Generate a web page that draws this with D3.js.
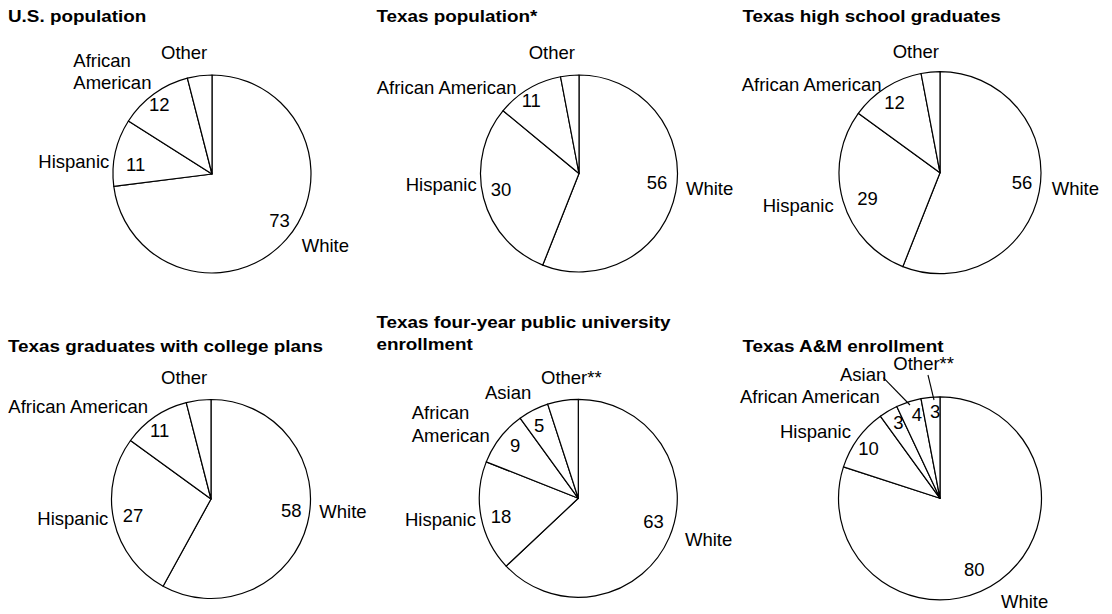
<!DOCTYPE html>
<html>
<head>
<meta charset="utf-8">
<script src="https://cdn.jsdelivr.net/npm/d3@7"></script>
<style>
  html, body { margin: 0; padding: 0; background: #fff; }
  svg { display: block; }
  text { font-family: Arial, "Liberation Sans", sans-serif; fill: #000; }
</style>
</head>
<body>
<svg id="chart" width="1112" height="614"></svg>
<script>
// ---- Data ----------------------------------------------------------------
const groupsFour = ["White", "Hispanic", "African American", "Other"];
const groupsFive = ["White", "Hispanic", "African American", "Asian", "Other**"];

const usPopulation          = [73, 11, 12, 4];
const texasPopulation       = [56, 30, 11, 3];
const texasHighSchoolGrads  = [56, 29, 12, 3];
const texasCollegePlans     = [58, 27, 11, 4];
const texasPublicUniversity = [63, 18, 9, 5, 5];
const texasAMEnrollment     = [80, 10, 3, 4, 3];

const chartTitles = [
  ["U.S. population"],
  ["Texas population*"],
  ["Texas high school graduates"],
  ["Texas graduates with college plans"],
  ["Texas four-year public university", "enrollment"],
  ["Texas A&M enrollment"]
];

// which slice values are printed on the pie
const valueShown = [
  [true, true, true, false],
  [true, true, true, false],
  [true, true, true, false],
  [true, true, true, false],
  [true, true, true, true, false],
  [true, true, true, true, true]
];

// ---- Layout --------------------------------------------------------------
// centre, radius, title anchor, and label offsets (relative to the centre)
const layout = [
  { cx: 212, cy: 174, r: 99, title: [8, 21.7],
    names: [[89.7, 78.3], [-173.7, -5.7], [-138.7, -107.3], [-51, -114.7]],
    values: [[57.3, 52.7], [-86, -3.3], [-63, -63], null],
    split: [2] },
  { cx: 579, cy: 173.5, r: 98.5, title: [376.5, 21.7],
    names: [[107, 21.8], [-173.3, 17.2], [-202.3, -79.2], [-50.3, -114.2]],
    values: [[67.7, 15.8], [-88.3, 22.5], [-57.3, -66.8], null],
    split: [] },
  { cx: 940, cy: 172.7, r: 101, title: [742.5, 21.7],
    names: [[111.7, 22.3], [-177.3, 39.6], [-198.3, -82], [-47.3, -114.4]],
    values: [[71.7, 16], [-82.7, 32.3], [-55.7, -63.4], null],
    split: [] },
  { cx: 211, cy: 499, r: 99.5, title: [8, 351.7],
    names: [[108.3, 19.3], [-173.7, 26], [-202.7, -85.7], [-50, -115]],
    values: [[70, 18.3], [-88.3, 22.7], [-61, -62.3], null],
    split: [] },
  { cx: 578.3, cy: 498.3, r: 99, title: [376.5, 328.3],
    names: [[106.7, 47.7], [-173.3, 27.4], [-166.6, -79.3], [-93.3, -99.3], [-37.3, -114.3]],
    values: [[65, 30], [-87.6, 24.4], [-68.3, -46.6], [-44.3, -66.6], null],
    split: [2] },
  { cx: 940, cy: 498.3, r: 101.5, title: [742.5, 351.7],
    names: [[61, 110], [-160, -60], [-200, -95.6], [-100, -117.3], [-46.7, -128.3]],
    values: [[24, 77.7], [-81.7, -43.3], [-46.7, -69.3], [-28.3, -77], [-10, -80.8]],
    split: [],
    leaders: { 3: [[-56.7, -120.6], [-30, -93.3]], 4: [[-12, -123.3], [-6, -98.3]] } }
];

const datasets = [usPopulation, texasPopulation, texasHighSchoolGrads,
                  texasCollegePlans, texasPublicUniversity, texasAMEnrollment];
const groupSets = [groupsFour, groupsFour, groupsFour, groupsFour, groupsFive, groupsFive];

// ---- Drawing -------------------------------------------------------------
const svg = d3.select("#chart");
svg.append("rect").attr("width", 1112).attr("height", 614).attr("fill", "#fff");

const pie = d3.pie().sort(null).value(d => d.value);
const lineHeight = 21.7;
const labelSize = 18.5;

datasets.forEach((values, i) => {
  const L = layout[i];
  const groups = groupSets[i];
  const rows = values.map((v, k) => ({ group: groups[k], value: v, show: valueShown[i][k] }));

  // title (bold, slightly wide face)
  const title = svg.append("g")
    .attr("transform", `translate(${L.title[0]},${L.title[1]}) scale(1.11,1)`);
  chartTitles[i].forEach((line, j) => {
    title.append("text")
      .attr("x", 0)
      .attr("y", j * lineHeight)
      .attr("font-size", 17)
      .attr("font-weight", "bold")
      .text(line);
  });

  const g = svg.append("g").attr("transform", `translate(${L.cx},${L.cy})`);
  const arc = d3.arc().innerRadius(0).outerRadius(L.r);

  g.selectAll("path.slice")
    .data(pie(rows))
    .join("path")
    .attr("class", "slice")
    .attr("d", arc)
    .attr("fill", "#fff")
    .attr("stroke", "#000")
    .attr("stroke-width", 1.2)
    .attr("stroke-linejoin", "round");

  // leader lines
  if (L.leaders) {
    Object.values(L.leaders).forEach(pts => {
      g.append("line")
        .attr("x1", pts[0][0]).attr("y1", pts[0][1])
        .attr("x2", pts[1][0]).attr("y2", pts[1][1])
        .attr("stroke", "#000").attr("stroke-width", 1.1);
    });
  }

  // values
  rows.forEach((d, k) => {
    if (!d.show || !L.values[k]) return;
    g.append("text")
      .attr("x", L.values[k][0])
      .attr("y", L.values[k][1])
      .attr("font-size", labelSize)
      .text(d.value);
  });

  // group names
  rows.forEach((d, k) => {
    const [x, y] = L.names[k];
    const lines = L.split.includes(k) ? d.group.split(" ") : [d.group];
    lines.forEach((line, j) => {
      g.append("text")
        .attr("x", x)
        .attr("y", y + j * 22.6)
        .attr("font-size", labelSize)
        .text(line);
    });
  });
});
</script>
</body>
</html>
